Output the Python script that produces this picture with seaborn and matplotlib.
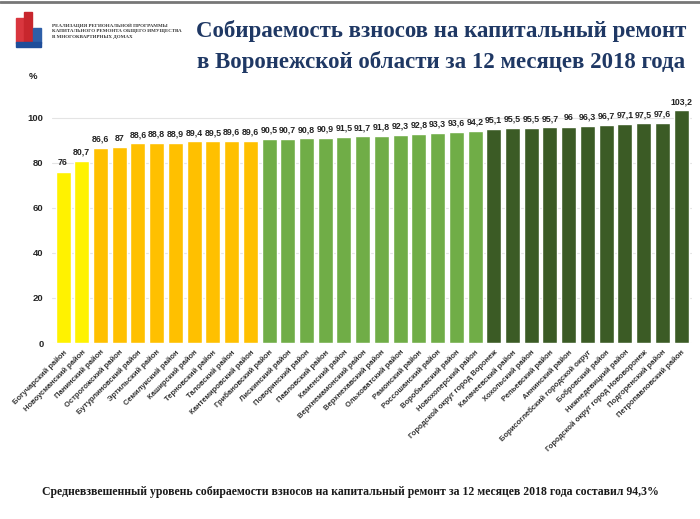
import numpy as np
import matplotlib
matplotlib.use("Agg")
import matplotlib.pyplot as plt
import seaborn as sns
import pandas as pd
from matplotlib.patches import Rectangle

districts = [
    "Богучарский район", "Новоусманский район", "Панинский район", "Острогожский район",
    "Бутурлиновский район", "Эртильский район", "Семилукский район", "Каширский район",
    "Терновский район", "Таловский район", "Кантемировский район",
    "Грибановский район", "Лискинский район", "Поворинский район", "Павловский район",
    "Каменский район", "Верхнемамонский район", "Верхнехавский район", "Ольховатский район",
    "Рамонский район", "Россошанский район", "Воробьевский район", "Новохоперский район",
    "Городской округ город Воронеж", "Калачеевский район", "Хохольский район",
    "Репьевский район", "Аннинский район", "Борисоглебский городской округ",
    "Бобровский район", "Нижнедевицкий район", "Городской округ город Нововоронеж",
    "Подгоренский район", "Петропавловский район",
]
values = [76, 80.7, 86.6, 87, 88.6, 88.8, 88.9, 89.4, 89.5, 89.6, 89.6,
          90.5, 90.7, 90.8, 90.9, 91.5, 91.7, 91.8, 92.3, 92.8, 93.3, 93.6, 94.2,
          95.1, 95.5, 95.5, 95.7, 96, 96.3, 96.7, 97.1, 97.5, 97.6, 103.2]
groups = ["a"] * 2 + ["b"] * 9 + ["c"] * 12 + ["d"] * 11
colors = {"a": "#FFF200", "b": "#FFC000", "c": "#70AD47", "d": "#3B5B25"}

df = pd.DataFrame({"district": districts, "value": values, "group": groups})

sns.set_style("white")
plt.rcParams['font.family'] = ['Liberation Sans Narrow', 'Liberation Sans', 'DejaVu Sans']

fig = plt.figure(figsize=(7, 5.19), dpi=100)
ax = fig.add_axes([0.074, 0.339, 0.915, 0.478])

sns.barplot(data=df, x="district", y="value", hue="group", palette=colors,
            dodge=False, width=0.8, legend=False, ax=ax, saturation=1)

for c in ax.containers:
    labels = [("%g" % v).replace(".", ",") for v in c.datavalues]
    ax.bar_label(c, labels=labels, padding=3, fontsize=6.3, fontweight="bold", color="#222222")

ax.set_ylim(0, 110)
ax.set_xlim(-0.6, len(districts) - 0.4)
ax.set_yticks(range(0, 101, 20))
ax.tick_params(axis="y", labelsize=6.8, length=0, pad=6)
for t in ax.get_yticklabels():
    t.set_fontweight("bold")
ax.yaxis.grid(True, color="#e4e4e4", linewidth=0.8)
ax.set_axisbelow(True)
ax.set_xticks(range(len(districts)))
ax.set_xticklabels(districts, rotation=45, ha="right", rotation_mode="anchor",
                   fontsize=5.5, fontweight="bold", color="#333333")
ax.tick_params(axis="x", length=0, pad=4)
ax.set_xlabel("")
ax.set_ylabel("")
for s in ax.spines.values():
    s.set_visible(False)
ax.text(-0.03, 1.075, "%", transform=ax.transAxes, fontsize=6.8, fontweight="bold",
        ha="center", va="center", color="#222222")

# title
fig.text(0.63, 0.94, "Собираемость взносов на капитальный ремонт", fontsize=16.5,
         fontweight="bold", family="Liberation Serif", color="#1F3864", ha="center", va="center")
fig.text(0.63, 0.88, "в Воронежской области за 12 месяцев 2018 года", fontsize=16.5,
         fontweight="bold", family="Liberation Serif", color="#1F3864", ha="center", va="center")

# logo block
fig.text(0.075, 0.94, "РЕАЛИЗАЦИЯ РЕГИОНАЛЬНОЙ ПРОГРАММЫ\nКАПИТАЛЬНОГО РЕМОНТА ОБЩЕГО ИМУЩЕСТВА\nВ МНОГОКВАРТИРНЫХ ДОМАХ",
         fontsize=3.6, fontweight="bold", family="Liberation Serif", color="#333333",
         ha="left", va="center", linespacing=1.5)
logo = fig.add_axes([0.018, 0.905, 0.045, 0.075])
logo.set_xlim(0, 10)
logo.set_ylim(0, 10)
logo.axis("off")
logo.add_patch(Rectangle((1, 1.5), 2.5, 6.5, color="#d9363e"))
logo.add_patch(Rectangle((3.7, 1.5), 2.5, 8.2, color="#c8262d"))
logo.add_patch(Rectangle((6.4, 1.5), 2.6, 4, color="#2e5fa8"))
logo.add_patch(Rectangle((1, 0.5), 8.0, 1.3, color="#1f4e9a"))

# footer
fig.text(0.5, 0.052, "Средневзвешенный уровень собираемости взносов на капитальный ремонт за 12 месяцев 2018 года составил 94,3%",
         fontsize=8.5, fontweight="bold", family="Liberation Serif", color="#1a1a1a",
         ha="center", va="center")

# top frame line
fig.add_artist(plt.Line2D([0, 1], [0.997, 0.997], color="#777777", linewidth=2,
                          transform=fig.transFigure))

fig.savefig("out.png", dpi=100)
